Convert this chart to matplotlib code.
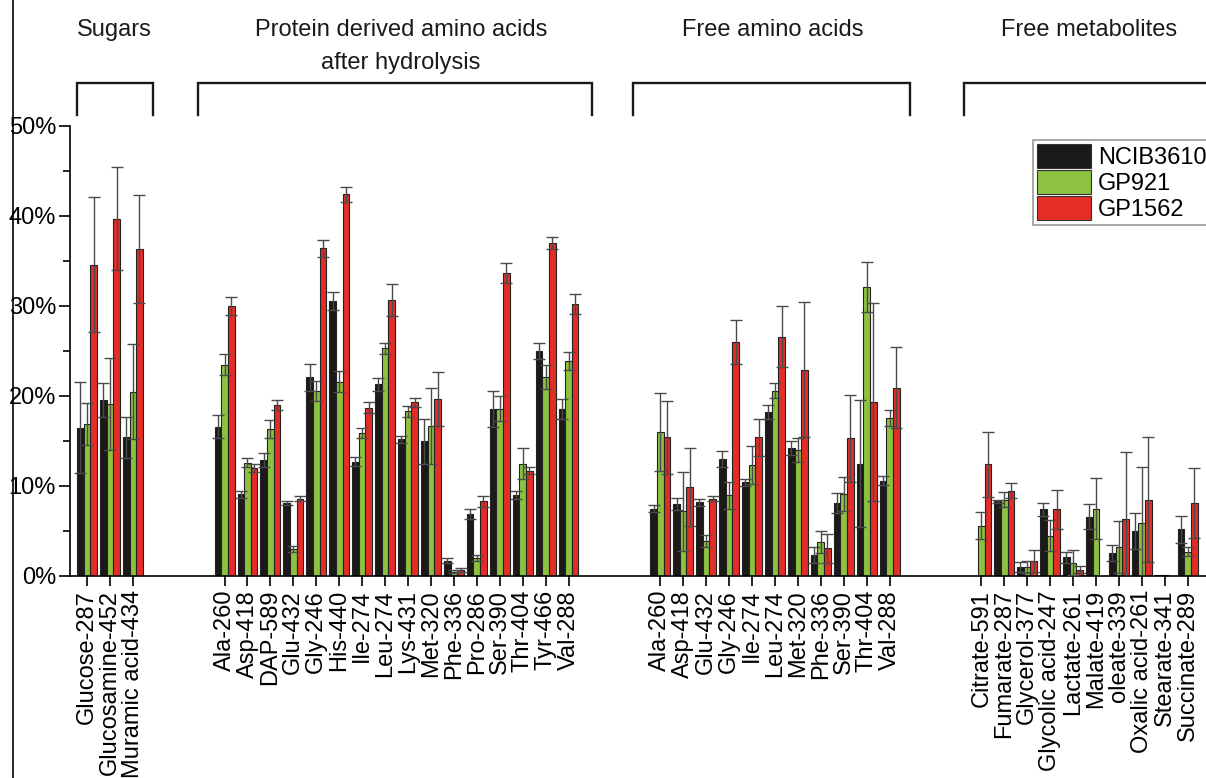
import matplotlib
matplotlib.use("Agg")
import matplotlib.pyplot as plt
import numpy as np
from matplotlib.lines import Line2D
from matplotlib.patches import Patch

plt.rcParams["font.family"] = ["Liberation Sans", "DejaVu Sans"]

# category labels per group
sugars = ["Glucose-287", "Glucosamine-452", "Muramic acid-434"]
protein_aa = ["Ala-260", "Asp-418", "DAP-589", "Glu-432", "Gly-246", "His-440", "Ile-274",
              "Leu-274", "Lys-431", "Met-320", "Phe-336", "Pro-286", "Ser-390", "Thr-404",
              "Tyr-466", "Val-288"]
free_aa = ["Ala-260", "Asp-418", "Glu-432", "Gly-246", "Ile-274", "Leu-274", "Met-320",
           "Phe-336", "Ser-390", "Thr-404", "Val-288"]
metabolites = ["Citrate-591", "Fumarate-287", "Glycerol-377", "Glycolic acid-247", "Lactate-261",
               "Malate-419", "oleate-339", "Oxalic acid-261", "Stearate-341", "Succinate-289"]

# values in percent, order follows the labels above
ncib_sugars = [16.5, 19.6, 15.4]
gp921_sugars = [16.9, 19.1, 20.5]
gp1562_sugars = [34.6, 39.7, 36.3]
ncib_sugars_err = [5.1, 1.9, 2.3]
gp921_sugars_err = [2.3, 5.1, 5.3]
gp1562_sugars_err = [7.5, 5.7, 6.0]

ncib_protein = [16.6, 9.1, 12.9, 8.1, 22.1, 30.6, 12.7, 21.3, 15.2, 15.0, 1.7, 6.9, 18.6, 9.0, 25.0, 18.6]
gp921_protein = [23.5, 12.6, 16.3, 3.0, 20.6, 21.6, 15.9, 25.3, 18.3, 16.7, 0.5, 2.0, 18.6, 12.5, 22.1, 23.9]
gp1562_protein = [30.0, 12.0, 19.0, 8.6, 36.4, 42.4, 18.7, 30.7, 19.3, 19.7, 0.7, 8.3, 33.7, 11.7, 37.0, 30.2]
ncib_protein_err = [1.3, 0.4, 0.8, 0.2, 1.5, 1.0, 0.5, 0.7, 0.4, 2.5, 0.3, 0.6, 2.0, 0.4, 0.9, 1.1]
gp921_protein_err = [1.2, 0.5, 1.0, 0.3, 1.1, 1.2, 0.6, 0.6, 0.6, 4.2, 0.2, 0.3, 1.4, 1.7, 1.3, 1.0]
gp1562_protein_err = [1.0, 0.4, 0.6, 0.3, 0.9, 0.8, 0.6, 1.8, 0.5, 3.0, 0.2, 0.6, 1.1, 0.4, 0.7, 1.1]

ncib_free = [7.5, 8.0, 8.2, 13.0, 10.4, 18.2, 14.2, 2.3, 8.1, 12.5, 10.6]
gp921_free = [16.0, 7.2, 3.9, 9.0, 12.3, 20.6, 14.0, 3.8, 9.1, 32.1, 17.6]
gp1562_free = [15.4, 9.9, 8.6, 26.0, 15.4, 26.6, 22.9, 3.1, 15.3, 19.3, 20.9]
ncib_free_err = [0.4, 0.7, 0.4, 0.9, 0.4, 0.8, 0.8, 0.9, 1.1, 7.1, 0.5]
gp921_free_err = [4.3, 4.4, 0.7, 1.5, 2.1, 0.8, 1.3, 1.2, 1.9, 2.8, 0.9]
gp1562_free_err = [4.1, 4.3, 0.3, 2.4, 2.1, 3.4, 7.5, 1.6, 4.8, 11.0, 4.5]

ncib_metab = [0.0, 8.3, 1.0, 7.4, 2.1, 6.6, 2.6, 5.0, 0.15, 5.2]
gp921_metab = [5.6, 8.5, 1.0, 4.5, 1.5, 7.5, 3.2, 5.9, 0.1, 2.7]
gp1562_metab = [12.4, 9.5, 1.7, 7.4, 0.7, 0.0, 6.3, 8.5, 0.0, 8.1]
ncib_metab_err = [0.0, 0.2, 0.6, 0.7, 0.6, 1.4, 0.9, 2.0, 0.0, 1.5]
gp921_metab_err = [1.5, 0.8, 0.7, 1.7, 1.4, 3.4, 2.9, 6.2, 0.0, 0.5]
gp1562_metab_err = [3.6, 0.8, 1.2, 2.2, 0.4, 0.0, 7.5, 6.9, 0.0, 3.9]

group_titles = ["Sugars", "Protein derived amino acids\nafter hydrolysis", "Free amino acids", "Free metabolites"]
strains = ["NCIB3610", "GP921", "GP1562"]
colors = ["#1b1a18", "#8cc23f", "#e42d27"]

GAP = 3  # empty slots between groups


def main() -> None:
    groups = [sugars, protein_aa, free_aa, metabolites]
    values = [
        np.concatenate([ncib_sugars, ncib_protein, ncib_free, ncib_metab]),
        np.concatenate([gp921_sugars, gp921_protein, gp921_free, gp921_metab]),
        np.concatenate([gp1562_sugars, gp1562_protein, gp1562_free, gp1562_metab]),
    ]
    errors = [
        np.concatenate([ncib_sugars_err, ncib_protein_err, ncib_free_err, ncib_metab_err]),
        np.concatenate([gp921_sugars_err, gp921_protein_err, gp921_free_err, gp921_metab_err]),
        np.concatenate([gp1562_sugars_err, gp1562_protein_err, gp1562_free_err, gp1562_metab_err]),
    ]

    positions, labels, spans = [], [], []
    start = 0
    for g in groups:
        pos = list(range(start, start + len(g)))
        positions += pos
        labels += g
        spans.append((pos[0], pos[-1]))
        start = pos[-1] + 1 + GAP
    x = np.array(positions, dtype=float)

    fig = plt.figure(figsize=(12.06, 7.78), dpi=100)
    ax = fig.add_axes([70 / 1206, 1 - 576 / 778, 1 - 70 / 1206, 450 / 778])

    width = 0.29
    for i, (vals, errs, col) in enumerate(zip(values, errors, colors)):
        xi = x + (i - 1) * width
        shown = vals > 0
        ax.bar(xi[shown], vals[shown], width=width, color=col, edgecolor="#222222",
               linewidth=0.8, zorder=2)
        mask = errs > 0
        ax.errorbar(xi[mask], vals[mask], yerr=errs[mask], fmt="none", ecolor="#4a4a4a",
                    elinewidth=1.0, capsize=4, capthick=1.0, zorder=3)

    ax.set_xlim(-0.74, 48.8)
    ax.set_ylim(0, 50)
    ax.set_xticks(x)
    ax.set_xticklabels(labels, rotation=90, fontsize=17)
    ax.set_yticks(np.arange(0, 51, 10))
    ax.set_yticklabels([f"{v}%" for v in range(0, 51, 10)], fontsize=17)
    ax.set_yticks(np.arange(5, 50, 10), minor=True)
    ax.tick_params(axis="x", direction="out", length=7, width=1.2, pad=3)
    ax.tick_params(axis="y", which="major", direction="out", length=8, width=1.2, pad=2)
    ax.tick_params(axis="y", which="minor", direction="out", length=5, width=1.2)
    for side in ["top", "right"]:
        ax.spines[side].set_visible(False)
    for side in ["left", "bottom"]:
        ax.spines[side].set_linewidth(1.2)
    ax.patch.set_alpha(0)

    # group brackets and titles above the axes
    bracket_pad = [(0.44, 0.88), (1.16, 1.03), (1.18, 0.91), (0.74, 3.0)]
    title_x = [1.2, 13.7, 29.9, 43.7]
    y_bar, y_end = 54.8, 51.2
    for (a, b), (pl, pr), title, cx in zip(spans, bracket_pad, group_titles, title_x):
        x0, x1 = a - pl, b + pr
        ax.plot([x0, x0, x1, x1], [y_end, y_bar, y_bar, y_end], color="#1a1a1a", lw=1.7,
                clip_on=False, solid_joinstyle="miter")
        for k, line in enumerate(title.split("\n")):
            ax.text(cx, 60.0 - k * 3.67, line, ha="center", va="baseline", fontsize=17,
                    color="#1a1a1a", clip_on=False)

    handles = [Patch(facecolor=c, edgecolor="#333333", linewidth=0.8) for c in colors]
    leg = fig.legend(handles, strains, loc="upper left", bbox_to_anchor=(1033 / 1206, 1 - 140 / 778),
                     fontsize=17, frameon=True, fancybox=False, borderpad=0.15, borderaxespad=0,
                     handlelength=2.3, handleheight=1.2, handletextpad=0.3, labelspacing=0.05)
    leg.get_frame().set_edgecolor("#7f7f7f")
    leg.get_frame().set_linewidth(1.2)

    fig.add_artist(Line2D([13 / 1206, 13 / 1206], [0, 1], color="black", lw=1.2,
                          transform=fig.transFigure))

    fig.savefig("out.png", dpi=100)
    plt.close(fig)


if __name__ == "__main__":
    main()
